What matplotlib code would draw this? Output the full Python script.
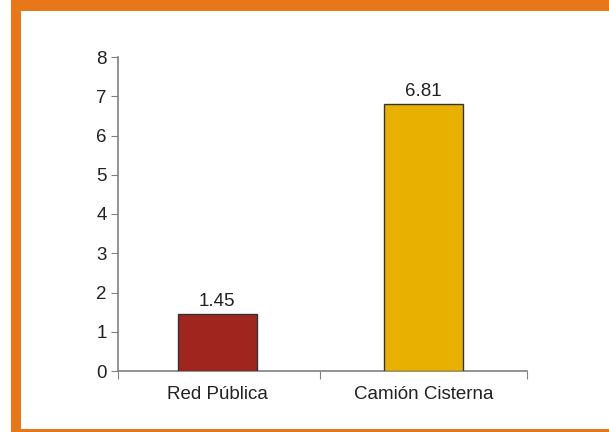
import matplotlib
matplotlib.use("Agg")
import matplotlib.pyplot as plt
from matplotlib.patches import Rectangle

categories = ["Red Pública", "Camión Cisterna"]
values = [1.45, 6.81]
value_labels = ["1.45", "6.81"]
yticks = [0, 1, 2, 3, 4, 5, 6, 7, 8]

bar_colors = ["#A0251E", "#E8B000"]
orange = "#E8771A"
axis_gray = "#808080"

plt.rcParams['font.family'] = ['Liberation Sans', 'DejaVu Sans']

W, H = 609, 432
fig = plt.figure(figsize=(W / 100, H / 100), dpi=100)
fig.patch.set_facecolor("white")

# orange frame
def px_rect(x0, y0, x1, y1):
    fig.patches.append(Rectangle((x0 / W, 1 - y1 / H), (x1 - x0) / W, (y1 - y0) / H,
                                 transform=fig.transFigure, facecolor=orange,
                                 edgecolor="none", zorder=0))

px_rect(11, 0, 609, 11)
px_rect(11, 0, 21, 432)
px_rect(11, 429, 609, 432)

ax = fig.add_axes([118 / W, 1 - 371 / H, (527 - 118) / W, (371 - 57) / H])
ax.set_facecolor("none")

x = [0, 1]
bars = ax.bar(x, values, width=0.382, color=bar_colors, edgecolor="#333333", linewidth=1.0, zorder=3)
for xi, v, lab in zip(x, values, value_labels):
    ax.text(xi, v + 0.1, lab, ha="center", va="bottom", fontsize=13.5, color="#222222")

ax.set_xlim(-0.48, 1.5)
ax.set_ylim(0, 8)
ax.set_yticks(yticks)
ax.set_yticklabels([str(t) for t in yticks], fontsize=13.5, color="#222222")

ax.set_xticks([-0.48, 0.5, 1.5])
ax.set_xticklabels([])
ax.set_xticks(x, minor=True)
ax.set_xticklabels(categories, minor=True, fontsize=13.5, color="#222222")
ax.tick_params(axis="x", which="minor", length=0, pad=11)
ax.tick_params(axis="x", which="major", length=6, color=axis_gray, direction="out")
ax.tick_params(axis="y", length=5, color=axis_gray, direction="out", pad=3)

for s in ["top", "right"]:
    ax.spines[s].set_visible(False)
for s in ["left", "bottom"]:
    ax.spines[s].set_color(axis_gray)
    ax.spines[s].set_linewidth(1.2)

fig.savefig("out.png", dpi=100)
